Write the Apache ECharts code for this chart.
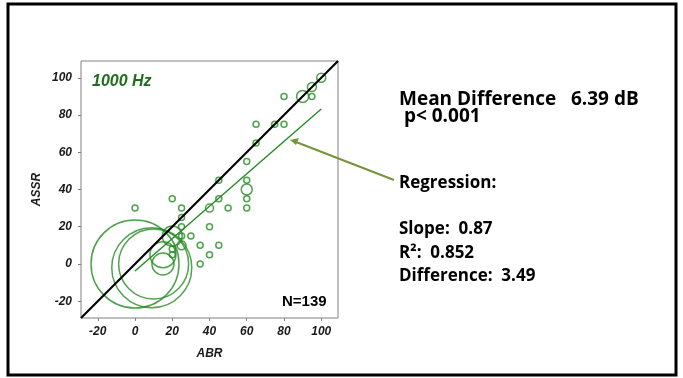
<!DOCTYPE html>
<html>
<head>
<meta charset="utf-8">
<script src="https://cdn.jsdelivr.net/npm/echarts@6/dist/echarts.min.js"></script>
<style>
  html, body { margin: 0; padding: 0; background: #fff; }
  #main { width: 683px; height: 378px; }
</style>
</head>
<body>
<div id="main"></div>
<script>
// ABR vs ASSR thresholds, bubble size = count of subjects at that point
var abr  = [0, 9, 10, 15, 15, 20, 25, 40, 60, 90, 95, 100,
            0, 20, 25, 25, 25, 25, 30, 20, 20, 35, 35, 40, 40, 45, 45, 45, 50,
            60, 60, 60, 60, 65, 65, 75, 80, 80, 95];
var assr = [0, -2, 0, 5, 0, 15, 10, 30, 40, 90, 95, 100,
            30, 35, 30, 25, 20, 15, 15, 5, 8, 10, 0, 20, 5, 10, 35, 45, 30,
            55, 45, 35, 30, 75, 65, 75, 75, 90, 90];
var sizes = [88, 80, 70, 26, 22, 20, 9, 8, 11, 12, 9, 9,
             6, 6, 6, 6, 6, 6, 6, 6, 6, 6, 6, 6, 6, 6, 6, 6, 6,
             6, 6, 6, 6, 6, 6, 6, 6, 6, 6];

var tickValues = [-20, 0, 20, 40, 60, 80, 100];
var identityX = [-29, 109];
var regressionX = [0, 100];
var regressionY = [-3.8, 83.2];

var green = '#248a24';
var axisFont = { fontFamily: 'Liberation Sans', fontWeight: 'bold', fontStyle: 'italic', fontSize: 12, color: '#1a1a1a' };

var myChart = echarts.init(document.getElementById('main'));

function note(text, x, y, size) {
    return {
        type: 'text', x: x, y: y,
        style: { text: text, font: 'bold ' + size + 'px "Open Sans"', fill: '#000', verticalAlign: 'middle' }
    };
}

myChart.setOption({
    animation: false,
    grid: { left: 81, top: 61, width: 257, height: 257, show: true, borderColor: '#808080', borderWidth: 1 },
    xAxis: {
        type: 'value', min: -29, max: 109,
        name: 'ABR', nameLocation: 'middle', nameGap: 30,
        nameTextStyle: axisFont,
        axisLine: { show: false, onZero: false },
        axisTick: { show: true, customValues: tickValues, length: 3, lineStyle: { color: '#808080' } },
        axisLabel: Object.assign({ customValues: tickValues, margin: 8 }, axisFont),
        splitLine: { show: false }
    },
    yAxis: {
        type: 'value', min: -29, max: 109,
        name: 'ASSR', nameLocation: 'middle', nameGap: 38,
        nameTextStyle: axisFont,
        axisLine: { show: false, onZero: false },
        axisTick: { show: true, customValues: tickValues, length: 3, lineStyle: { color: '#808080' } },
        axisLabel: Object.assign({ customValues: tickValues, margin: 9 }, axisFont),
        splitLine: { show: false }
    },
    series: [
        {
            type: 'scatter',
            symbol: 'circle',
            symbolSize: function (v) { return v[2]; },
            itemStyle: { color: 'rgba(0,0,0,0)', borderColor: green, borderWidth: 1.5 },
            data: abr.map(function (x, i) { return [x, assr[i], sizes[i]]; }),
            z: 2
        },
        {
            type: 'line',
            data: identityX.map(function (x) { return [x, x]; }),
            symbol: 'none',
            lineStyle: { color: '#000', width: 2.2 },
            z: 3
        },
        {
            type: 'line',
            data: regressionX.map(function (x, i) { return [x, regressionY[i]]; }),
            symbol: 'none',
            lineStyle: { color: green, width: 1.4 },
            z: 3
        }
    ],
    graphic: [
        { type: 'rect', shape: { x: 8, y: 4, width: 668, height: 371 }, style: { fill: 'none', stroke: '#000', lineWidth: 3 } },
        { type: 'text', left: 92, top: 74, style: { text: '1000 Hz', font: 'italic bold 16px "Liberation Sans"', fill: '#1e6e1e' } },
        { type: 'text', left: 282, top: 294, style: { text: 'N=139', font: 'bold 15px "Liberation Sans"', fill: '#000' } },
        note('Mean Difference   6.39 dB', 399, 100, 19),
        note(' p< 0.001', 399, 117, 19),
        note('Regression:', 399, 183, 17),
        note('Slope:  0.87', 399, 229, 17),
        note('R\u00b2:  0.852', 399, 253, 17),
        note('Difference:  3.49', 399, 276, 17),
        { type: 'line', shape: { x1: 394, y1: 180, x2: 296, y2: 142 }, style: { stroke: '#77933c', lineWidth: 2 } },
        { type: 'polygon', shape: { points: [[290, 140], [299, 138], [296, 145]] }, style: { fill: '#77933c' } }
    ]
});
</script>
</body>
</html>
